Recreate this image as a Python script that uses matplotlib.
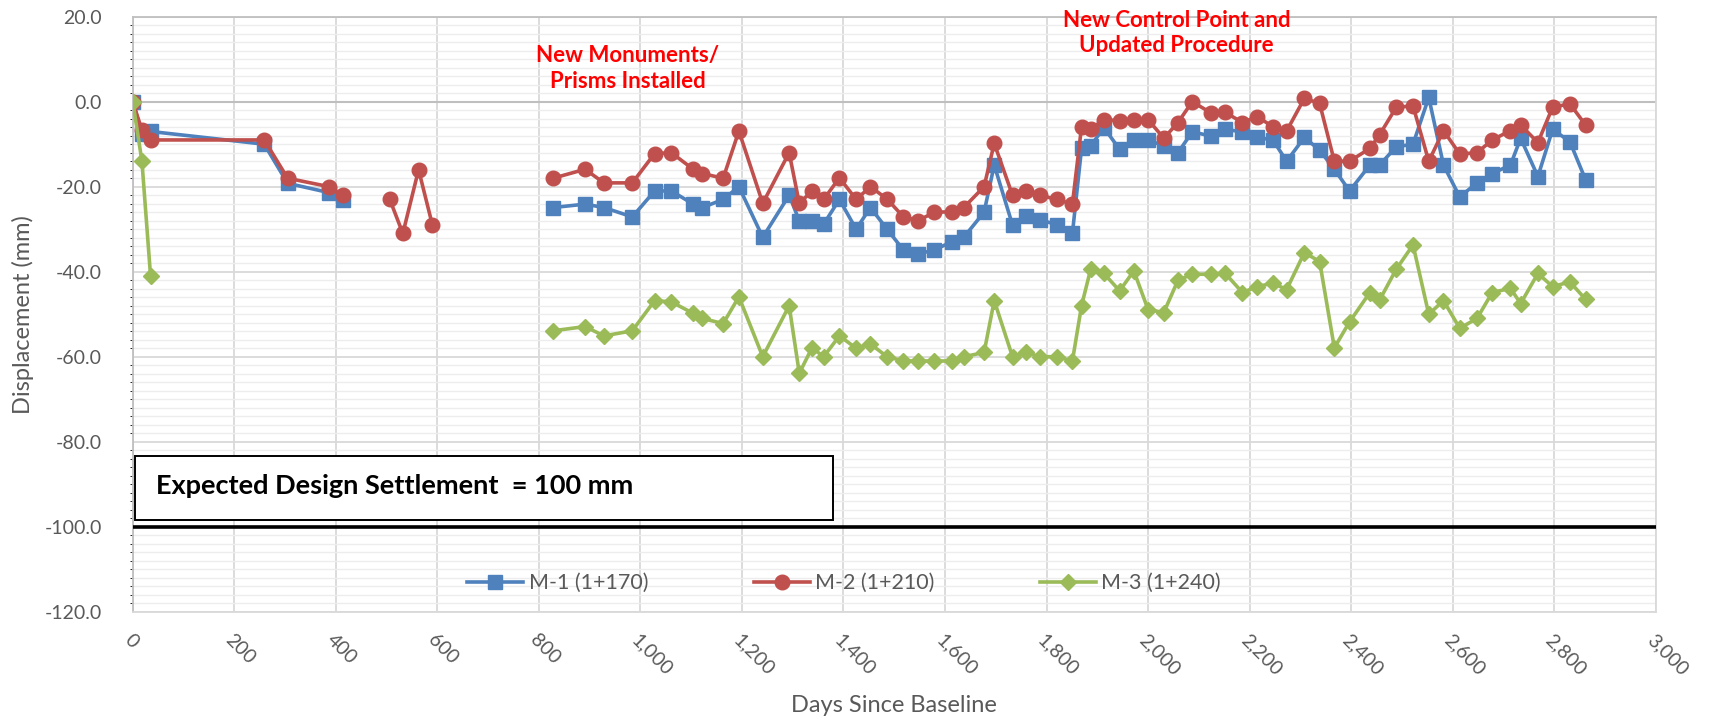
import numpy as np
import matplotlib.pyplot as plt
from matplotlib.ticker import MultipleLocator, FuncFormatter

plt.rcParams['font.family'] = ['Lato', 'DejaVu Sans']

# days since baseline (None rows break the lines, like blank cells in the sheet)
days = [0, 18, 35, 259, 305, 387, 414, 460, 506, 532, 563, 590, 700,
        828, 891, 928, 984, 1028, 1061, 1104, 1122, 1163, 1194, 1241, 1293,
        1313, 1338, 1361, 1392, 1425, 1453, 1486, 1518, 1547, 1579, 1614, 1637,
        1677, 1697, 1733, 1759, 1787, 1820, 1851, 1869, 1887, 1913, 1944, 1972,
        2000, 2031, 2059, 2087, 2125, 2152, 2186, 2215, 2246, 2273, 2308, 2338,
        2367, 2397, 2437, 2456, 2489, 2522, 2553, 2582, 2614, 2648, 2678, 2714,
        2734, 2768, 2797, 2831, 2862]

m1 = [0, -7.5, -7, -10, -19.2, -21.4, -23.1, None, None, None, None, None, None,
      -24.9, -24.1, -24.9, -27.1, -21, -21, -24.1, -24.9, -23, -20, -31.9, -22,
      -28, -28, -28.8, -23, -30, -24.9, -30, -34.9, -35.8, -34.9, -32.9, -31.9,
      -26, -14.9, -29, -26.9, -27.8, -28.9, -31, -11, -10.4, -6.1, -11.2, -9,
      -9, -10.4, -12, -7.1, -8.1, -6.5, -7.1, -8.4, -9, -14, -8.4, -11.4,
      -15.9, -21, -14.9, -14.9, -10.6, -10, 1, -14.9, -22.4, -19.1, -16.9, -14.9,
      -8.6, -17.6, -6.5, -9.4, -18.4]

m2 = [0, -6.7, -9, -9, -18, -20, -22, None, -22.9, -31, -16, -28.9, None,
      -18, -15.9, -19.1, -19.1, -12.2, -12, -15.9, -16.9, -18, -6.9, -23.9, -12,
      -23.9, -21, -23, -17.9, -23, -20, -22.9, -27.1, -28, -26, -25.9, -24.9,
      -20, -9.8, -22, -21, -22, -23, -24.1, -5.9, -6.5, -4.2, -4.5, -4.2,
      -4.2, -8.6, -4.9, 0, -2.7, -2.5, -4.9, -3.5, -5.9, -6.9, 0.8, -0.4,
      -14, -14, -11, -7.8, -1.3, -1, -14, -6.8, -12.3, -12, -9, -6.8,
      -5.5, -9.6, -1.3, -0.5, -5.5]

m3 = [0, -14, -41, None, None, None, None, None, None, None, None, None, None,
      -53.9, -52.9, -55.1, -53.9, -46.8, -47.1, -49.8, -51, -52.2, -45.9, -60, -48,
      -63.9, -57.9, -60, -55.1, -58, -57, -60, -61, -61, -61, -61, -60,
      -59, -46.8, -60, -59, -60, -60, -61, -48, -39.4, -40.4, -44.5, -39.8,
      -48.9, -49.6, -42, -40.6, -40.6, -40.4, -44.9, -43.5, -42.7, -44.2, -35.5, -37.6,
      -57.9, -51.8, -44.9, -46.7, -39.4, -33.7, -50, -46.8, -53.3, -51, -44.9, -43.9,
      -47.5, -40.4, -43.5, -42.4, -46.5]

labels = ['M-1 (1+170)', 'M-2 (1+210)', 'M-3 (1+240)']
colors = ['#4F81BD', '#C0504D', '#9BBB59']
markers = ['s', 'o', 'D']
msizes = [9.5, 10.5, 8.5]

design_limit = -100
design_text = 'Expected Design Settlement  = 100 mm'

x = np.array(days, dtype=float)

fig = plt.figure(figsize=(17.2, 7.26), dpi=100)
ax = fig.add_axes([0.0772, 0.1574, 0.9626 - 0.0772, 0.977 - 0.1574])

ax.set_xlim(0, 3000)
ax.set_ylim(-120, 20)
ax.xaxis.set_major_locator(MultipleLocator(200))
ax.yaxis.set_major_locator(MultipleLocator(20))
ax.yaxis.set_minor_locator(MultipleLocator(2))
ax.grid(which='major', color='#D9D9D9', lw=1.3)
ax.grid(which='minor', axis='y', color='#EDEDED', lw=1.0)
ax.set_axisbelow(True)
ax.axhline(0, color='#BFBFBF', lw=1.5, zorder=1)
for s in ax.spines.values():
    s.set_color('#D9D9D9')
    s.set_linewidth(1.3)
ax.spines['left'].set_color('#BFBFBF')
ax.spines['top'].set_color('#BFBFBF')

for vals, lab, c, m, ms in zip([m1, m2, m3], labels, colors, markers, msizes):
    y = np.array([np.nan if v is None else v for v in vals], dtype=float)
    ax.plot(x, y, color=c, lw=2.6, marker=m, ms=ms, mec=c, mfc=c, label=lab, zorder=3)

ax.axhline(design_limit, color='black', lw=2.6, zorder=4)

ax.add_patch(plt.Rectangle((5, -98.4), 1374, 15.1, fill=True, fc='white',
                           ec='black', lw=1.4, zorder=5))
ax.text(45, -90.5, design_text, fontsize=19.5, fontweight='bold', color='black',
        va='center', ha='left', zorder=6)

ax.text(975, 7.8, 'New Monuments/\nPrisms Installed', color='#FF0000', fontsize=16,
        fontweight='bold', ha='center', va='center', linespacing=1.25, zorder=6)
ax.text(2056, 16.2, 'New Control Point and\nUpdated Procedure', color='#FF0000',
        fontsize=16, fontweight='bold', ha='center', va='center', linespacing=1.25,
        zorder=6, clip_on=False)

ax.xaxis.set_major_formatter(FuncFormatter(lambda v, p: f'{int(v):,}'))
ax.yaxis.set_major_formatter(FuncFormatter(lambda v, p: f'{v:.1f}'))
ax.tick_params(axis='both', length=0, labelsize=14, labelcolor='#595959')
ax.tick_params(axis='y', pad=22)
ax.tick_params(axis='x', pad=14)
for t in ax.get_xticklabels():
    t.set_rotation(-45)
    t.set_ha('left')
    t.set_va('top')
    t.set_rotation_mode('anchor')

ax.set_ylabel('Displacement (mm)', fontsize=17, color='#595959', labelpad=8)
ax.set_xlabel('Days Since Baseline', fontsize=17, color='#595959', labelpad=12)

ax.legend(loc='center', bbox_to_anchor=(0.467, 0.048), ncol=3, frameon=False,
          fontsize=15.5, labelcolor='#595959', handlelength=2.6, columnspacing=4.9,
          handletextpad=0.25)

fig.savefig('out.png', dpi=100)
